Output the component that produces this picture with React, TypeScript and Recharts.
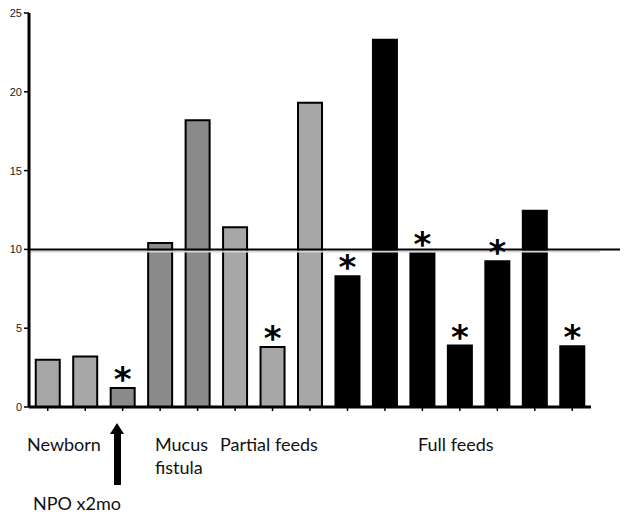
import React from 'react';
import { BarChart, Bar, XAxis, YAxis, Cell, ReferenceLine, LabelList, Customized } from 'recharts';

const categories = ['Newborn A', 'Newborn B', 'NPO x2mo', 'Mucus fistula A', 'Mucus fistula B', 'Partial feeds A', 'Partial feeds B', 'Partial feeds C', 'Full feeds A', 'Full feeds B', 'Full feeds C', 'Full feeds D', 'Full feeds E', 'Full feeds F', 'Full feeds G'];
const values = [3.0, 3.2, 1.2, 10.4, 18.2, 11.4, 3.8, 19.3, 8.3, 23.3, 9.75, 3.9, 9.25, 12.45, 3.85];
const significant = [false, false, true, false, false, false, true, false, true, false, true, true, true, false, true];
const barGroups = ['light', 'light', 'dark', 'dark', 'dark', 'light', 'light', 'light', 'full', 'full', 'full', 'full', 'full', 'full', 'full'];
const yTicks = [0, 5, 10, 15, 20, 25];
const thresholdValue = 10;

const groupFill: Record<string, string> = { light: '#a7a7a7', dark: '#8a8a8a', full: '#000000' };

const data = categories.map((c, i) => ({ name: c, value: values[i], mark: significant[i] ? '*' : '' }));

const Asterisk = (p: any) => {
  if (!p.value) return null;
  const cx = p.x + p.width / 2;
  return (
    <text x={cx} y={p.y + 3} textAnchor="middle" fontFamily="DejaVu Sans" fontWeight="bold" fontSize={34} fill="#000">*</text>
  );
};

const GroupLabels = () => {
  const f = { fontFamily: 'Lato', fontSize: 18, fill: '#111' };
  return (
    <g>
      <text x={27} y={451} {...f}>Newborn</text>
      <text x={155} y={451} {...f}>Mucus</text>
      <text x={155} y={474} {...f}>fistula</text>
      <text x={220} y={451} {...f}>Partial feeds</text>
      <text x={418} y={451} {...f}>Full feeds</text>
      <text x={33} y={510} {...f}>NPO x2mo</text>
      <polygon points="117,423 124,434 121,434 121,485 114,485 114,434 110,434" fill="#000" />
    </g>
  );
};

const ThresholdShape = (p: any) => (
  <g>
    <line x1={p.x1} y1={p.y1 + 2} x2={p.x2 + 9} y2={p.y1 + 2} stroke="#d6d6d6" strokeWidth={2} />
    <line x1={p.x1} y1={p.y1} x2={p.x2 + 29} y2={p.y2} stroke="#000" strokeWidth={2} />
  </g>
);

export default function App() {
  return (
    <div style={{ position: 'absolute', left: 0, top: 0, background: '#fff' }}>
      <BarChart
        width={629}
        height={518}
        data={data}
        margin={{ top: 13, right: 38, bottom: 101, left: 0 }}
        barCategoryGap="18%"
        style={{ fontFamily: 'Liberation Sans' }}
      >
        <YAxis
          width={29}
          domain={[0, 25]}
          ticks={yTicks}
          interval={0}
          tickSize={5}
          tickMargin={2}
          axisLine={{ stroke: '#000', strokeWidth: 3 }}
          tickLine={{ stroke: '#000', strokeWidth: 1.5 }}
          tick={{ fontSize: 11, fill: '#222' }}
        />
        <XAxis
          dataKey="name"
          height={10}
          interval={0}
          tickSize={4}
          tick={{ fontSize: 1, fill: 'none' }}
          tickFormatter={() => ''}
          axisLine={{ stroke: '#000', strokeWidth: 3 }}
          tickLine={{ stroke: '#000', strokeWidth: 1.5 }}
        />
        <Bar dataKey="value" isAnimationActive={false} stroke="#000" strokeWidth={2}>
          {data.map((d, i) => (
            <Cell key={i} fill={groupFill[barGroups[i]]} />
          ))}
          <LabelList dataKey="mark" content={Asterisk} />
        </Bar>
        <ReferenceLine y={thresholdValue} shape={ThresholdShape} />
        <Customized component={GroupLabels} />
      </BarChart>
    </div>
  );
}
